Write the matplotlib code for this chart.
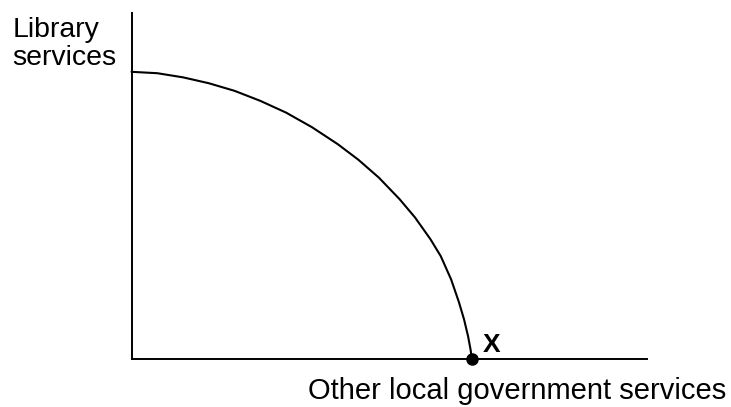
import matplotlib
matplotlib.use("Agg")
import matplotlib.pyplot as plt

# Curve (x: other services, y: library services), 0-100 axis units
ppf_x = [0.0, 5.0, 10.0, 15.0, 20.0, 25.0, 30.0, 35.0, 40.0, 44.0, 48.0, 52.0,
         55.0, 58.0, 60.0, 62.0, 63.5, 64.5, 65.3, 65.8, 66.0]
ppf_y = [83.0, 82.6, 81.4, 79.7, 77.5, 74.6, 71.2, 67.0, 62.1, 57.6, 52.4, 46.2,
         40.9, 34.6, 29.7, 23.0, 16.5, 11.5, 6.5, 2.5, 0.0]
point_x = [66.0]
point_y = [0.0]
point_label = "X"
y_label_lines = ["Library", "services"]
x_label = "Other local government services"

W, H = 731, 407
fig = plt.figure(figsize=(W / 100, H / 100), dpi=100)
fig.patch.set_facecolor("white")
ax = fig.add_axes([131.5 / W, 1 - 359 / H, (647 - 131.5) / W, (359 - 13) / H])
ax.set_xlim(0, 100)
ax.set_ylim(0, 100)
for s in ["top", "right"]:
    ax.spines[s].set_visible(False)
for s in ["left", "bottom"]:
    ax.spines[s].set_linewidth(1.4)
    ax.spines[s].set_color("black")
ax.set_xticks([])
ax.set_yticks([])
ax.set_facecolor("white")

ax.plot(ppf_x, ppf_y, color="black", lw=1.5, solid_capstyle="round",
        solid_joinstyle="round", clip_on=False)
ax.plot(point_x, point_y, "o", color="black", markersize=8, clip_on=False, zorder=5)

font = "Liberation Sans"
def ftext(x, y, s, **kw):
    fig.text(x / W, 1 - y / H, s, family=font, va="baseline", ha="left", **kw)

ftext(482.7, 351.7, point_label, fontsize=19, fontweight="bold")
ftext(12.7, 37, y_label_lines[0], fontsize=20.5)
ftext(12.7, 65, y_label_lines[1], fontsize=20.5)
ftext(308.3, 399, x_label, fontsize=21)

fig.savefig("out.png", dpi=100, facecolor="white")
